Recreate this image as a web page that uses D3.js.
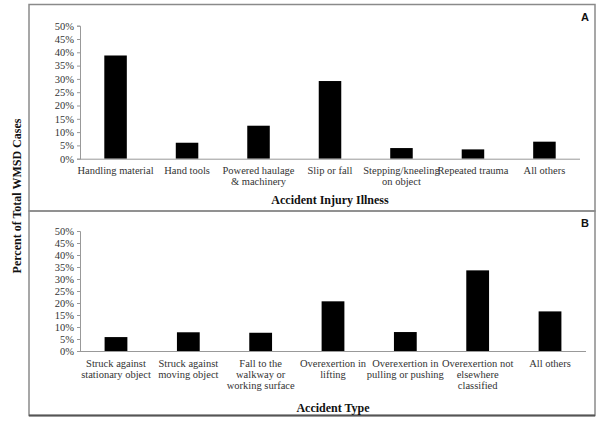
<!DOCTYPE html>
<html><head><meta charset="utf-8">
<script src="https://cdn.jsdelivr.net/npm/d3@7/dist/d3.min.js"></script>
<style>body{margin:0;background:#fff}svg{display:block}</style>
</head><body><svg id="c" width="602" height="421"></svg>
<script>
const catsA = ["Handling material","Hand tools","Powered haulage\n& machinery","Slip or fall","Stepping/kneeling\non object","Repeated trauma","All others"];
const valsA = [38.8, 6.0, 12.4, 29.2, 4.0, 3.5, 6.4];
const catsB = ["Struck against\nstationary object","Struck against\nmoving object","Fall to the\nwalkway or\nworking surface","Overexertion in\nlifting","Overexertion in\npulling or pushing","Overexertion not\nelsewhere\nclassified","All others"];
const valsB = [5.8, 7.8, 7.6, 20.7, 7.9, 33.6, 16.5];
const yTicks = [0,5,10,15,20,25,30,35,40,45,50];
const yTitle = "Percent of Total WMSD Cases";
const titleA = "Accident Injury Illness", titleB = "Accident Type";

const svg = d3.select("#c");
const serif = "'Liberation Serif','Times New Roman',serif";

// panel borders
svg.append("rect").attr("x",29).attr("y",4.5).attr("width",566).attr("height",206.5)
  .attr("fill","none").attr("stroke","#8a8a8a").attr("stroke-width",1.5);
svg.append("rect").attr("x",29).attr("y",211).attr("width",566).attr("height",204.5)
  .attr("fill","none").attr("stroke","#8a8a8a").attr("stroke-width",1.5);
svg.append("line").attr("x1",29).attr("x2",595).attr("y1",415.5).attr("y2",415.5)
  .attr("stroke","#555").attr("stroke-width",2);

svg.append("text").attr("transform","translate(21,196) rotate(-90)")
  .attr("text-anchor","middle").attr("font-family",serif).attr("font-weight","bold")
  .attr("font-size",12).attr("fill","#111").text(yTitle);

function panel(cats, vals, x0, x1, yTop, yBot, labelY, title, titleY, letter, letterY){
  const x = d3.scaleBand().domain(cats).range([x0,x1]).paddingInner(0.685).paddingOuter(0.34);
  const y = d3.scaleLinear().domain([0,50]).range([yBot,yTop]);
  const g = svg.append("g");
  const ya = g.append("g").attr("transform",`translate(${x0},0)`)
    .call(d3.axisLeft(y).tickValues(yTicks).tickFormat(d=>d+"%").tickSize(3).tickPadding(3));
  ya.selectAll("path,line").attr("stroke","#999");
  ya.selectAll("text").attr("font-family",serif).attr("font-size",10.5).attr("fill","#333");
  g.selectAll("rect.bar").data(vals).join("rect").attr("class","bar")
    .attr("x",(d,i)=>x(cats[i])).attr("width",x.bandwidth())
    .attr("y",d=>y(d)).attr("height",d=>yBot-y(d)).attr("fill","#000");
  g.append("line").attr("x1",x0).attr("x2",x1).attr("y1",yBot+0.5).attr("y2",yBot+0.5)
    .attr("stroke","#999");
  cats.forEach(c=>{
    const t = g.append("text").attr("text-anchor","middle").attr("font-family",serif)
      .attr("font-size",10.5).attr("fill","#333");
    c.split("\n").forEach((ln,k)=>{
      t.append("tspan").attr("x",x(c)+x.bandwidth()/2).attr("y",labelY+k*10.8).text(ln);
    });
  });
  g.append("text").attr("x",(x0+x1)/2).attr("y",titleY).attr("text-anchor","middle")
    .attr("font-family",serif).attr("font-weight","bold").attr("font-size",12).attr("fill","#111").text(title);
  g.append("text").attr("x",585).attr("y",letterY).attr("text-anchor","middle")
    .attr("font-family","'Liberation Sans',Arial,sans-serif").attr("font-weight","bold")
    .attr("font-size",11).attr("fill","#111").text(letter);
}
panel(catsA, valsA, 80, 580, 25.7, 158.7, 174, titleA, 204, "A", 21);
panel(catsB, valsB, 80, 586, 231, 351, 367, titleB, 412, "B", 227);
</script></body></html>
